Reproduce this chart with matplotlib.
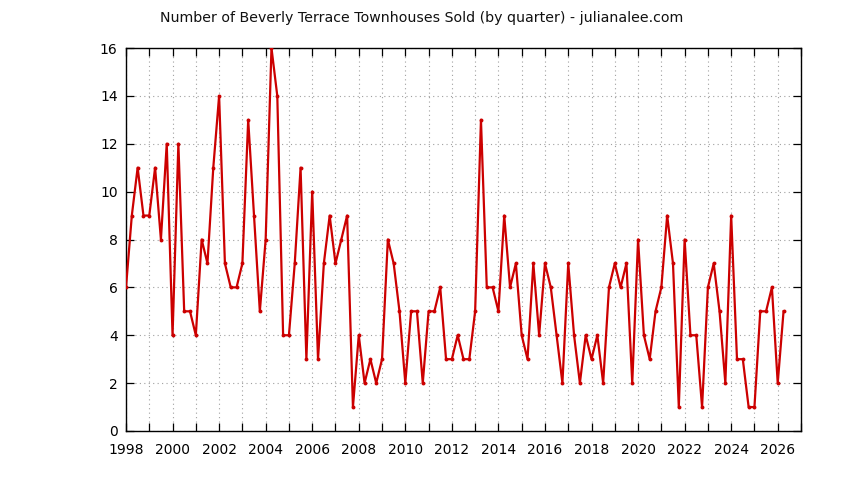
import matplotlib
matplotlib.use("Agg")
import matplotlib.pyplot as plt
import numpy as np

title = "Number of Beverly Terrace Townhouses Sold (by quarter) - julianalee.com"
start_year = 1998
# Quarterly sales, 1998 Q1 .. 2026 Q2
sold = [
    6, 9, 11, 9,      # 1998
    9, 11, 8, 12,     # 1999
    4, 12, 5, 5,      # 2000
    4, 8, 7, 11,      # 2001
    14, 7, 6, 6,      # 2002
    7, 13, 9, 5,      # 2003
    8, 16, 14, 4,     # 2004
    4, 7, 11, 3,      # 2005
    10, 3, 7, 9,      # 2006
    7, 8, 9, 1,       # 2007
    4, 2, 3, 2,       # 2008
    3, 8, 7, 5,       # 2009
    2, 5, 5, 2,       # 2010
    5, 5, 6, 3,       # 2011
    3, 4, 3, 3,       # 2012
    5, 13, 6, 6,      # 2013
    5, 9, 6, 7,       # 2014
    4, 3, 7, 4,       # 2015
    7, 6, 4, 2,       # 2016
    7, 4, 2, 4,       # 2017
    3, 4, 2, 6,       # 2018
    7, 6, 7, 2,       # 2019
    8, 4, 3, 5,       # 2020
    6, 9, 7, 1,       # 2021
    8, 4, 4, 1,       # 2022
    6, 7, 5, 2,       # 2023
    9, 3, 3, 1,       # 2024
    1, 5, 5, 6,       # 2025
    2, 5,             # 2026
]
year_ticks = list(range(1998, 2028))
year_labels = [str(y) if y % 2 == 0 else "" for y in year_ticks]
y_ticks = list(range(0, 17, 2))

x = start_year + np.arange(len(sold)) / 4.0

plt.rcParams['font.family'] = ['DejaVu Sans']
fig = plt.figure(figsize=(8.44, 4.80), dpi=100)
ax = fig.add_axes([126/844, 1 - 431/480, (801 - 126)/844, (431 - 48)/480])

ax.plot(x, sold, color="#cc0000", linewidth=1.6, marker="o", markersize=2.8,
        markeredgewidth=0, zorder=3)

ax.set_xlim(1998, 2027)
ax.set_ylim(0, 16)
ax.set_xticks(year_ticks)
ax.set_xticklabels(year_labels)
ax.set_yticks(y_ticks)

ax.grid(True, linestyle=(0, (1, 3)), color="#a0a0a0", linewidth=0.8)
ax.tick_params(direction="in", length=5.5, width=0.9, top=True, right=True,
               labelsize=10, colors="black")
ax.tick_params(axis="x", pad=9)
ax.tick_params(axis="y", pad=6)
for s in ax.spines.values():
    s.set_linewidth(1.0)
    s.set_color("black")

fig.text(422/844, 1 - 18/480, title, ha="center", va="center", fontsize=10.2,
         color="#111111")

fig.savefig("out.png", dpi=100)
